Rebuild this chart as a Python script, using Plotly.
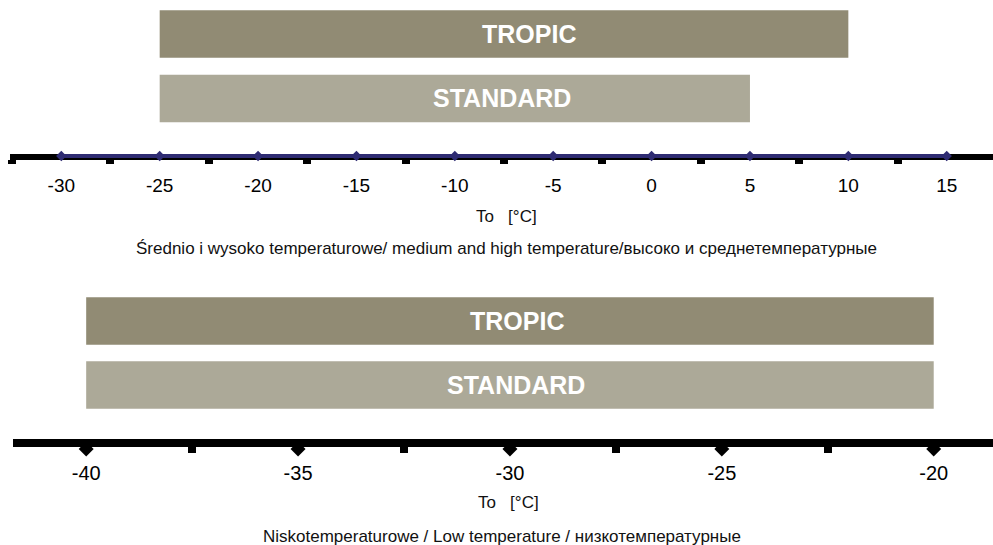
import plotly.graph_objects as go

W, H = 993, 545

# ---------------- data ----------------
series = ["TROPIC", "STANDARD"]
bar_colors = ["#918B74", "#ACA998"]

top_start = [-25, -25]
top_end = [10, 5]
top_temps = [-30, -25, -20, -15, -10, -5, 0, 5, 10, 15]
top_vals = [0, 0, 0, 0, 0, 0, 0, 0, 0, 0]
top_minor = [-32.5, -27.5, -22.5, -17.5, -12.5, -7.5, -2.5, 2.5, 7.5, 12.5]

bot_start = [-40, -40]
bot_end = [-20, -20]
bot_temps = [-40, -35, -30, -25, -20]
bot_vals = [0, 0, 0, 0, 0]
bot_minor = [-37.5, -32.5, -27.5, -22.5]

axis_title = "To\u00a0\u00a0\u00a0[°C]"
top_subtitle = "Średnio i wysoko temperaturowe/ medium and high temperature/высоко и среднетемпературные"
bot_subtitle = "Niskotemperaturowe / Low temperature / низкотемпературные"


def py(px):
    return 1 - px / H


def pxx(px):
    return px / W


fig = go.Figure()

# bars
fig.add_trace(go.Bar(
    y=series, x=[e - s for s, e in zip(top_start, top_end)], base=top_start,
    orientation="h", marker=dict(color=bar_colors, line=dict(width=0)),
    width=0.74, xaxis="x", yaxis="y", hoverinfo="skip", showlegend=False))
fig.add_trace(go.Bar(
    y=series, x=[e - s for s, e in zip(bot_start, bot_end)], base=bot_start,
    orientation="h", marker=dict(color=bar_colors, line=dict(width=0)),
    width=0.74, xaxis="x2", yaxis="y2", hoverinfo="skip", showlegend=False))

# line with markers
fig.add_trace(go.Scatter(
    x=top_temps, y=top_vals, mode="lines+markers",
    line=dict(color="#2E2B72", width=4),
    marker=dict(symbol="diamond", size=8, color="#2E2B72"),
    xaxis="x", yaxis="y3", cliponaxis=False, showlegend=False, hoverinfo="skip"))
fig.add_trace(go.Scatter(
    x=bot_temps, y=bot_vals, mode="markers",
    marker=dict(symbol="diamond", size=11.5, color="#000000"),
    xaxis="x2", yaxis="y4", cliponaxis=False, showlegend=False, hoverinfo="skip"))

tick_font = dict(family="Liberation Sans, Arial, sans-serif", size=19, color="#000000")

fig.update_layout(
    width=W, height=H,
    margin=dict(l=0, r=0, t=0, b=0),
    paper_bgcolor="white", plot_bgcolor="rgba(0,0,0,0)",
    barmode="overlay",
    xaxis=dict(
        domain=[pxx(10), 1], range=[-32.607, 17.352], anchor="free", position=py(157),
        showline=True, linewidth=6, linecolor="black", layer="below traces",
        showgrid=False, zeroline=False, tickmode="array", tickvals=top_temps,
        ticktext=[str(v) for v in top_temps], ticks="", tickfont=tick_font,
        ticklabelstandoff=9,
        minor=dict(tickmode="array", tickvals=top_minor, ticks="outside",
                   ticklen=4, tickwidth=8, tickcolor="black"),
    ),
    xaxis2=dict(
        domain=[pxx(12.7), 1], range=[-41.734, -18.601], anchor="free", position=py(443),
        showline=True, linewidth=8, linecolor="black", layer="above traces",
        showgrid=False, zeroline=False, tickmode="array", tickvals=bot_temps,
        ticktext=[str(v) for v in bot_temps], ticks="",
        tickfont=dict(tick_font, size=20),
        ticklabelstandoff=9,
        minor=dict(tickmode="array", tickvals=bot_minor, ticks="outside",
                   ticklen=6, tickwidth=8, tickcolor="black"),
    ),
    yaxis=dict(domain=[py(130.75), py(1.75)], type="category",
               categoryorder="array", categoryarray=["STANDARD", "TROPIC"],
               range=[-0.5, 1.5], visible=False, anchor="x"),
    yaxis2=dict(domain=[py(417), py(289)], type="category",
                categoryorder="array", categoryarray=["STANDARD", "TROPIC"],
                range=[-0.5, 1.5], visible=False, anchor="x2"),
    yaxis3=dict(domain=[py(166), py(146)], range=[-1, 1], visible=False, anchor="x"),
    yaxis4=dict(domain=[py(459), py(439)], range=[-1, 1], visible=False, anchor="x2"),
)

bar_font = dict(family="Liberation Sans, Arial, sans-serif", size=25, color="white", weight="bold")
ann = []
# bar labels
for name, xc, yc in [("TROPIC", 529, 34), ("STANDARD", 502, 98.5),
                     ("TROPIC", 517, 321), ("STANDARD", 516, 385)]:
    ann.append(dict(text=name, x=pxx(xc), y=py(yc), xref="paper", yref="paper",
                    xanchor="center", yanchor="middle", showarrow=False, font=bar_font))

label_font = dict(family="Liberation Sans, Arial, sans-serif", size=17, color="#111111")
for txt, xc, yc in [(axis_title, 507, 216), (top_subtitle, 506, 248),
                    (axis_title, 508, 502), (bot_subtitle, 502, 536)]:
    ann.append(dict(text=txt, x=pxx(xc), y=py(yc), xref="paper", yref="paper",
                    xanchor="center", yanchor="middle", showarrow=False, font=label_font))

fig.update_layout(annotations=ann)

fig.write_html("out.html", config={"displayModeBar": False},
               post_script="document.body.style.margin='0';document.body.style.overflow='hidden';")
